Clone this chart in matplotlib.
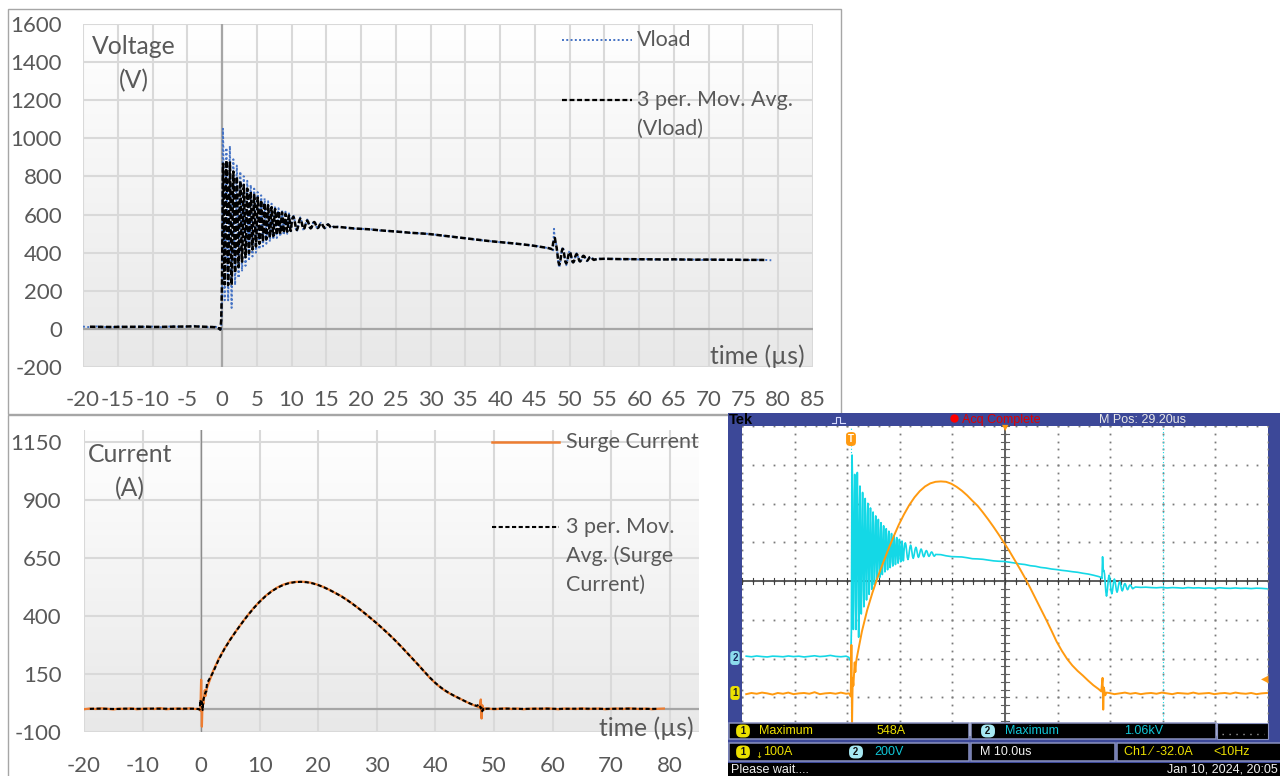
import numpy as np
import pandas as pd
import matplotlib
matplotlib.use("Agg")
import matplotlib.pyplot as plt
from matplotlib.patches import Rectangle
from matplotlib.lines import Line2D
from matplotlib.colors import LinearSegmentedColormap

plt.rcParams['font.family'] = ['Lato', 'DejaVu Sans']
plt.rcParams['axes.unicode_minus'] = False

# ----------------------------------------------------------------- data
# Vload (V) versus time (us)
v_pre_t = [-20, -19, -18, -17, -16, -15, -14, -13, -12, -11, -10, -9, -8, -7, -6,
           -5, -4, -3, -2, -1, -0.5, -0.25, -0.125]
v_pre = [12, 9, 13, 10, 8, 12, 11, 9, 13, 10, 12, 8, 11, 14, 10, 12, 16, 11, 9, 12,
         6, -8, -10]
# fast ringing, sampled every 0.0625 us from 0 to 10 us
v_ring_fast = [150, 600, 1050, 950, 600, 250, 150, 300,
               560, 850, 950, 850, 560, 270, 150, 270,
               560, 830, 960, 830, 560, 290, 110, 290,
               560, 794, 890, 794, 560, 326, 230, 326,
               562, 771, 857, 771, 562, 353, 267, 353,
               564, 750, 826, 750, 564, 378, 302, 378,
               566, 733, 801, 733, 566, 399, 331, 399,
               567, 716, 777, 716, 567, 418, 357, 418,
               568, 701, 756, 701, 568, 435, 380, 435,
               568, 687, 736, 687, 568, 449, 400, 449,
               568, 675, 718, 675, 568, 461, 418, 461,
               567, 662, 701, 662, 567, 472, 433, 472,
               566, 650, 685, 650, 566, 482, 447, 482,
               564, 639, 670, 639, 564, 489, 458, 489,
               563, 630, 657, 630, 563, 496, 469, 496,
               561, 621, 645, 621, 561, 501, 477, 501,
               559, 612, 633, 612, 559, 506, 485, 506,
               558, 605, 624, 605, 558, 511, 492, 511,
               557, 598, 615, 598, 557, 516, 499, 516,
               555, 591, 606, 591, 555, 519, 504, 519]
# late ringing, sampled every 0.125 us from 10 to 16 us
v_ring_slow = [554, 585, 597, 585, 554, 523, 511, 523,
               551, 575, 585, 575, 551, 527, 517, 527,
               548, 566, 574, 566, 548, 530, 522, 530,
               545, 559, 565, 559, 545, 531, 525, 531,
               542, 553, 557, 553, 542, 531, 527, 531,
               539, 547, 550, 547, 539, 531, 528, 531]
v_mid_t = [16, 17, 18, 19, 20, 21, 22, 23, 24, 25, 26, 27, 28, 29, 30, 31, 32, 33,
           34, 35, 36, 37, 38, 39, 40, 41, 42, 43, 44, 45, 46, 47, 47.5, 47.625]
v_mid = [537, 536, 530, 526, 525, 524, 520, 515, 514, 512, 508, 504, 502, 501, 497,
         493, 488, 485, 479, 476, 470, 467, 462, 459, 455, 452, 448, 445, 440, 436,
         430, 423, 418, 412]
# second ringing, sampled every 0.125 us from 47.75 us
v_ring2 = [525, 450, 455, 436, 390, 344, 322, 344,
           382, 416, 430, 416, 382, 348, 334, 348,
           376, 400, 410, 400, 376, 352, 342, 352,
           373, 390, 397, 390, 373, 356, 349, 356,
           371, 382, 387, 382, 371, 360, 355, 360,
           370, 377, 380, 377, 370, 363, 360, 363]
v_tail_t = [54, 55, 56, 57, 58, 59, 60, 61, 62, 63, 64, 65, 66, 67, 68, 69, 70, 71,
            72, 73, 74, 75, 76, 77, 78, 79]
v_tail = [369, 367, 368, 366, 365, 367, 364, 366, 365, 363, 366, 364, 365, 363, 364,
          362, 365, 363, 362, 364, 362, 363, 361, 363, 362, 360]

# Surge current (A) versus time (us)
i_pre_t = [-20, -19, -18, -17, -16, -15, -14, -13, -12, -11, -10, -9, -8, -7, -6,
           -5, -4, -3, -2, -1, -0.5, -0.25, -0.125]
i_pre = [-2, 1, -1, 2, 0, -3, 1, -1, 2, -2, 0, 1, -1, 3, -2, 0, 1, -1, 2, -1,
         0, -3, -8]
i_spk_t = [0, 0.125, 0.25, 0.375, 0.5, 0.625, 0.75, 0.875]
i_spk = [125, -77, 40, 20, 50, 80, 55, 78]
i_pulse_t = [1, 2, 3, 4, 5, 6, 7, 8, 9, 10, 11, 12, 13, 14, 15, 16, 17, 18, 19, 20,
             21, 22, 23, 24, 25, 26, 27, 28, 29, 30, 31, 32, 33, 34, 35, 36, 37, 38,
             39, 40, 41, 42, 43, 44, 45, 46, 47]
i_pulse = [90, 160, 215, 260, 300, 336, 371, 404, 435, 462, 486, 506, 522, 534, 542,
           546, 547, 546, 541, 533, 523, 511, 497, 484, 467, 449, 430, 410, 389, 368,
           345, 322, 298, 272, 245, 218, 191, 163, 134, 110, 89, 72, 58, 46, 33, 21, 11]
i_end_t = [47.5, 47.75, 47.875, 48.0, 48.25, 48.5]
i_end = [5, 40, -42, 15, -5, 2]
i_tail_t = [49, 50, 51, 52, 53, 54, 55, 56, 57, 58, 59, 60, 61, 62, 63, 64, 65, 66,
            67, 68, 69, 70, 71, 72, 73, 74, 75, 76, 77, 78, 79]
i_tail = [1, -2, 0, 2, -1, 1, -2, 0, 1, -1, 2, 0, -2, 1, 0, -1, 2, -1, 0, 1, -2, 0,
          1, -1, 2, 0, -1, 1, -2, 0, 1]

t_v = np.concatenate([v_pre_t, np.arange(0, 10, 0.0625), np.arange(10, 16, 0.125),
                      v_mid_t, np.arange(47.75, 53.75, 0.125), v_tail_t])
vload = np.concatenate([v_pre, v_ring_fast, v_ring_slow, v_mid, v_ring2,
                        v_tail]).astype(float)
t_i = np.concatenate([i_pre_t, i_spk_t, i_pulse_t, i_end_t, i_tail_t])
surge = np.concatenate([i_pre, i_spk, i_pulse, i_end, i_tail]).astype(float)

v_ma = pd.Series(vload).rolling(3, center=True).mean().to_numpy()
i_ma = pd.Series(surge).rolling(3, center=True).mean().to_numpy()

top_xticks = list(range(-20, 90, 5))
top_yticks = list(range(-200, 1601, 200))
bot_xticks = list(range(-20, 81, 10))
bot_yticks = [-100, 150, 400, 650, 900, 1150]

# ----------------------------------------------------------------- figure
W, H = 1280, 776
fig = plt.figure(figsize=(W / 100, H / 100), dpi=100)


def rect(x0, y0, x1, y1):
    return [x0 / W, 1 - y1 / H, (x1 - x0) / W, (y1 - y0) / H]


def fx(x):
    return x / W


def fy(y):
    return 1 - y / H


def ftext(x, y, s, **kw):
    return fig.text(fx(x), fy(y), s, **kw)


def fline(xs, ys, **kw):
    fig.add_artist(Line2D([fx(x) for x in xs], [fy(y) for y in ys],
                          transform=fig.transFigure, **kw))


def frect(x0, y0, x1, y1, **kw):
    r = Rectangle((fx(x0), fy(y1)), (x1 - x0) / W, (y1 - y0) / H,
                  transform=fig.transFigure, **kw)
    fig.add_artist(r)
    return r


TXT = '#595959'
FS = 16        # tick labels
LFS = 15.5     # legend
AFS = 17.8     # axis titles
grad_cmap = LinearSegmentedColormap.from_list('g', ['#ffffff', '#e8e8e8'])

# chart borders
frect(8, 9, 841, 414, fill=False, ec='#a6a6a6', lw=1.0, zorder=-2)
frect(8, 415, 900, 800, fill=False, ec='#a6a6a6', lw=1.0, zorder=-2)


def excel_axes(box, xlim, ylim, xticks, yticks, xpad, ypad):
    bg = fig.add_axes(rect(*box))
    bg.axis('off')
    bg.imshow(np.linspace(0, 1, 256).reshape(-1, 1), aspect='auto', cmap=grad_cmap,
              extent=[0, 1, 0, 1], origin='upper')
    ax = fig.add_axes(rect(*box))
    ax.patch.set_alpha(0)
    for s in ax.spines.values():
        s.set_visible(False)
    ax.set_xlim(*xlim)
    ax.set_ylim(*ylim)
    ax.set_xticks(xticks)
    ax.set_yticks(yticks)
    ax.tick_params(axis='both', length=0, labelsize=FS, labelcolor=TXT)
    ax.tick_params(axis='x', pad=xpad)
    ax.tick_params(axis='y', pad=ypad)
    ax.grid(True, color='#d9d9d9', lw=1.5)
    ax.set_axisbelow(True)
    return ax


# ---------------- top chart: voltage
ax1 = excel_axes((83, 24, 813, 367), (-20, 85), (-200, 1600), top_xticks, top_yticks,
                 16.5, 15)
ax1.axhline(0, color='#a6a6a6', lw=1.6, zorder=1)
ax1.axvline(0, color='#a6a6a6', lw=1.6, zorder=1)
ax1.plot(t_v, vload, color='#4472C4', lw=1.4, ls=(0, (1, 1.2)), zorder=3)
ax1.plot(t_v, v_ma, color='black', lw=1.8, ls=(0, (2.2, 1.0)), zorder=4)

ftext(134, 47, 'Voltage', ha='center', va='center', fontsize=AFS, color=TXT)
ftext(134, 81, '(V)', ha='center', va='center', fontsize=AFS, color=TXT)
ftext(805, 356, 'time (µs)', ha='right', va='center', fontsize=AFS, color=TXT)

fline([562, 632], [40, 40], color='#4472C4', lw=1.4, ls=(0, (1, 1.2)))
ftext(637, 40, 'Vload', ha='left', va='center', fontsize=LFS, color=TXT)
fline([562, 632], [100, 100], color='black', lw=1.6, ls=(0, (2.2, 1.2)))
ftext(637, 100, '3 per. Mov. Avg.', ha='left', va='center', fontsize=LFS, color=TXT)
ftext(637, 129, '(Vload)', ha='left', va='center', fontsize=LFS, color=TXT)

# ---------------- bottom chart: current
ax2 = excel_axes((84, 430, 699, 732), (-20, 85), (-100, 1200), bot_xticks, bot_yticks,
                 17.5, 16)
ax2.axhline(0, color='#a6a6a6', lw=1.6, zorder=1)
ax2.axvline(0, color='#8c8c8c', lw=1.0, zorder=1)
ax2.plot(t_i, surge, color='#ED7D31', lw=1.6, zorder=3)
ax2.plot(t_i, i_ma, color='black', lw=1.5, ls=(0, (2.0, 1.2)), zorder=4)

ftext(130, 455, 'Current', ha='center', va='center', fontsize=AFS, color=TXT)
ftext(130, 489, '(A)', ha='center', va='center', fontsize=AFS, color=TXT)
ftext(694, 728, 'time (µs)', ha='right', va='center', fontsize=AFS, color=TXT)

fline([492, 559], [442, 442], color='#ED7D31', lw=1.8)
ftext(566, 442, 'Surge Current', ha='left', va='center', fontsize=LFS, color=TXT)
fline([492, 559], [527, 527], color='black', lw=1.5, ls=(0, (2.0, 1.2)))
ftext(566, 527, '3 per. Mov.', ha='left', va='center', fontsize=LFS, color=TXT)
ftext(566, 556, 'Avg. (Surge', ha='left', va='center', fontsize=LFS, color=TXT)
ftext(566, 585, 'Current)', ha='left', va='center', fontsize=LFS, color=TXT)

# ---------------- oscilloscope screenshot
BLUE = '#3c4898'
CYAN = '#14d8e6'
ORANGE = '#ff9a10'
YEL = '#ece000'
SF = ['Liberation Sans', 'DejaVu Sans']
SFS = 9

frect(728, 413, 1280, 776, color=BLUE, zorder=-1, lw=0)

g = fig.add_axes(rect(742, 426, 1268, 736))
g.set_facecolor('white')
g.set_xlim(0, 10)
g.set_ylim(0, 8)
g.set_xticks([])
g.set_yticks([])
for s in g.spines.values():
    s.set_visible(False)
ydots = np.arange(0, 8.001, 0.2)
xdots = np.arange(0, 10.001, 0.2)
for i in range(11):
    g.plot(np.full(len(ydots), i), ydots, ls='none', marker='s', ms=1.3, mew=0,
           color='#7a7a7a')
for j in range(9):
    g.plot(xdots, np.full(len(xdots), j), ls='none', marker='s', ms=1.3, mew=0,
           color='#7a7a7a')
g.axvline(5, color='#606060', lw=1.4)
g.axhline(4, color='#404040', lw=1.2)
for yy in ydots:
    g.plot([4.93, 5.07], [yy, yy], color='#606060', lw=0.8)
for xx in xdots:
    g.plot([xx, xx], [3.93, 4.07], color='#404040', lw=0.8)

av = fig.add_axes(rect(742, 426, 1268, 736))
av.axis('off')
av.patch.set_alpha(0)
av.set_xlim(-20.8, 79.2)
av.set_ylim(-400, 1200)
av.axvline(0, color=CYAN, lw=0.8, ls=(0, (1, 2)))
av.axvline(59.2, color=CYAN, lw=0.8, ls=(0, (1, 2)))
av.plot(t_v, vload, color=CYAN, lw=1.2)

ac = fig.add_axes(rect(742, 426, 1268, 736))
ac.axis('off')
ac.patch.set_alpha(0)
ac.set_xlim(-20.8, 79.2)
ac.set_ylim(-110, 690)
ac.plot(t_i, surge, color=ORANGE, lw=1.4)

# header
ftext(729, 420, 'Tek', ha='left', va='center', fontsize=10.5, fontweight='bold',
      color='black', family=SF)
fline([832, 836, 836, 840, 840, 845], [423, 423, 417, 417, 423, 423], color='#d8dcff',
      lw=0.8)
fig.add_artist(Line2D([fx(954)], [fy(418)], transform=fig.transFigure, marker='o',
                      ms=5, color='#ff0000', ls='none'))
ftext(962, 420, 'Acq Complete', ha='left', va='center', fontsize=SFS, color='#e00000',
      family=SF)
ftext(1099, 420, 'M Pos: 29.20us', ha='left', va='center', fontsize=SFS,
      color='#e6e6e6', family=SF)
ftext(1005, 428, '▼', ha='center', va='center', fontsize=6, color=ORANGE,
      family=['DejaVu Sans'], zorder=6)
ftext(851, 439, 'T', ha='center', va='center', fontsize=7, color='white',
      fontweight='bold', family=SF, zorder=6,
      bbox=dict(boxstyle='round,pad=0.2,rounding_size=0.4', fc=ORANGE, ec='none'))
ftext(1265, 679, '◀', ha='center', va='center', fontsize=7, color=ORANGE,
      family=['DejaVu Sans'], zorder=6)

# left channel markers
ftext(735, 658, '2', ha='center', va='center', fontsize=7, color='#1a2a60',
      fontweight='bold', family=SF, zorder=6,
      bbox=dict(boxstyle='round,pad=0.2,rounding_size=0.3', fc='#8cdcec', ec='none'))
ftext(735, 693, '1', ha='center', va='center', fontsize=7, color='#202020',
      fontweight='bold', family=SF, zorder=6,
      bbox=dict(boxstyle='round,pad=0.2,rounding_size=0.3', fc=YEL, ec='none'))

# readout rows
EDGE = '#8a92c0'
frect(729, 723, 969, 739, fc='black', ec=EDGE, lw=1.1, zorder=5)
frect(971, 723, 1216, 739, fc='black', ec=EDGE, lw=1.1, zorder=5)
frect(1217, 723, 1268, 739, fc='black', ec=EDGE, lw=0.8, zorder=5)
fline([1222, 1264], [734, 734], color='#9a9a9a', lw=1.0, ls=(0, (1, 4)), zorder=6)
frect(729, 743, 969, 761, fc='black', ec=EDGE, lw=1.1, zorder=5)
frect(971, 743, 1115, 761, fc='black', ec=EDGE, lw=1.1, zorder=5)
frect(1117, 743, 1284, 761, fc='black', ec=EDGE, lw=1.1, zorder=5)
frect(728, 763, 1282, 778, fc='black', ec='none', zorder=5)


def badge(x, y, s, fc):
    ftext(x, y, ' ' + s + ' ', ha='center', va='center', fontsize=7, color='#101010',
          fontweight='bold', family=SF, zorder=7,
          bbox=dict(boxstyle='round,pad=0.15,rounding_size=0.55', fc=fc, ec='none'))


badge(743, 731, '1', YEL)
ftext(759, 731, 'Maximum', ha='left', va='center', fontsize=SFS, color=YEL, family=SF,
      zorder=7)
ftext(877, 731, '548A', ha='left', va='center', fontsize=SFS, color=YEL, family=SF,
      zorder=7)
badge(988, 731, '2', '#a6e8f2')
ftext(1005, 731, 'Maximum', ha='left', va='center', fontsize=SFS, color='#10c8d8',
      family=SF, zorder=7)
ftext(1124, 731, '1.06kV', ha='left', va='center', fontsize=SFS, color='#10c8d8',
      family=SF, zorder=7)

badge(743, 752, '1', YEL)
ftext(759, 756, '↓', ha='center', va='center', fontsize=6, color=YEL,
      family=['DejaVu Sans'], zorder=7)
ftext(763, 752, '100A', ha='left', va='center', fontsize=SFS, color=YEL, family=SF,
      zorder=7)
badge(856, 752, '2', '#a6e8f2')
ftext(874, 752, '200V', ha='left', va='center', fontsize=SFS, color='#10c8d8',
      family=SF, zorder=7)
ftext(980, 752, 'M 10.0us', ha='left', va='center', fontsize=SFS, color='#f0f0f0',
      family=SF, zorder=7)
ftext(1124, 752, 'Ch1 ⁄ -32.0A', ha='left', va='center', fontsize=SFS, color=YEL,
      family=SF, zorder=7)
ftext(1213, 752, '<10Hz', ha='left', va='center', fontsize=SFS, color=YEL, family=SF,
      zorder=7)
ftext(731, 770, 'Please wait....', ha='left', va='center', fontsize=SFS,
      color='#f0f0f0', family=SF, zorder=7)
ftext(1278, 770, 'Jan 10, 2024, 20:05', ha='right', va='center', fontsize=SFS,
      color='#f0f0f0', family=SF, zorder=7)

fig.savefig('out.png', dpi=100)
